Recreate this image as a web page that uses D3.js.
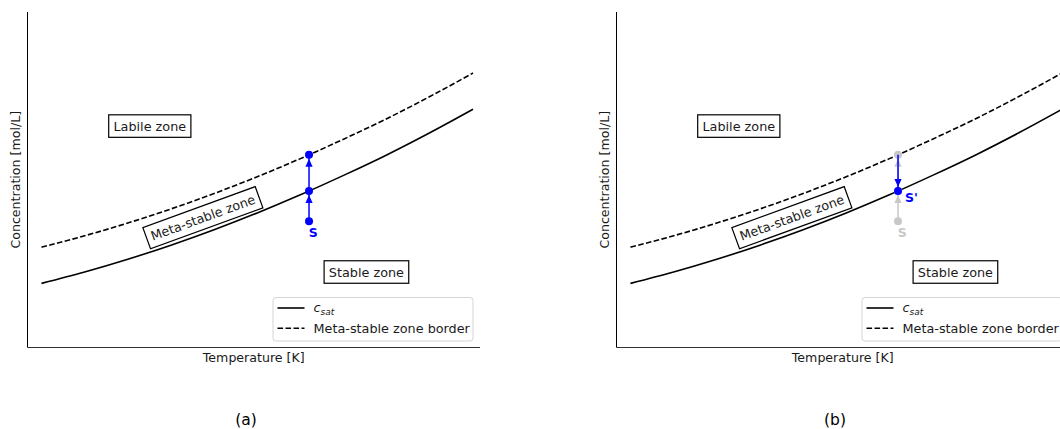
<!DOCTYPE html>
<html>
<head>
<meta charset="utf-8">
<script src="https://cdn.jsdelivr.net/npm/d3@7/dist/d3.min.js"></script>
<style>
  body { margin: 0; background: #fff; }
  svg { display: block; }
  text { font-family: "DejaVu Sans", sans-serif; }
</style>
</head>
<body>
<svg id="chart" width="1060" height="429"></svg>
<script>
// Solubility curve and meta-stable limit (arbitrary temperature / concentration units)
const temperature = [0, 10, 20, 30, 40, 50, 60, 70, 80, 90, 100];
const cSat        = [1.91, 2.25, 2.63, 3.05, 3.51, 4.01, 4.55, 5.13, 5.74, 6.40, 7.10];
const msBorder    = [2.99, 3.33, 3.71, 4.13, 4.59, 5.09, 5.63, 6.21, 6.82, 7.48, 8.18];

// Operating point S (temperature, concentration)
const processT = 62;
const sConc = 3.76;

const panelNames = ["(a)", "(b)"];
const legendLabels = ["sat", "Meta-stable zone border"];

const BLUE = "#0000ff";
const GREY = "#c8c8c8";
const INK = "#1a1a1a";

const svg = d3.select("#chart");

const x = d3.scaleLinear().domain([-3.24, 101.62]).range([27.5, 480]);
const y = d3.scaleLinear().domain([0, 10]).range([347.5, 12]);

// value of a tabulated curve at temperature t (linear interpolation)
function at(series, t) {
  const i = Math.min(d3.bisectRight(temperature, t), temperature.length - 1);
  const t0 = temperature[i - 1], t1 = temperature[i];
  return series[i - 1] + (series[i] - series[i - 1]) * (t - t0) / (t1 - t0);
}

const line = d3.line()
  .x(d => x(d[0]))
  .y(d => y(d[1]))
  .curve(d3.curveMonotoneX);

const solidPts = temperature.map((t, i) => [t, cSat[i]]);
const dashPts = temperature.map((t, i) => [t, msBorder[i]]);

const cAtP = at(cSat, processT);
const bAtP = at(msBorder, processT);

const R = 4;        // marker radius
const AH = 8;       // arrow head length
const AW = 3.6;     // arrow head half width

function arrowHead(g, px, tipY, dir, color) {
  // dir = -1 points up, +1 points down
  const baseY = tipY - dir * AH;
  g.append("path")
    .attr("d", `M${px},${tipY} L${px - AW},${baseY} L${px + AW},${baseY} Z`)
    .attr("fill", color);
}

function upwardPath(g, color) {
  const px = x(processT);
  g.append("line")
    .attr("x1", px).attr("x2", px)
    .attr("y1", y(sConc)).attr("y2", y(bAtP))
    .attr("stroke", color).attr("stroke-width", 1.5);
  arrowHead(g, px, y(cAtP) + R, -1, color);
  arrowHead(g, px, y(bAtP) + R, -1, color);
  [sConc, cAtP, bAtP].forEach(v => {
    g.append("circle").attr("cx", px).attr("cy", y(v)).attr("r", R).attr("fill", color);
  });
  g.append("text")
    .attr("x", px + 4.2).attr("y", y(sConc) + 15.5)
    .attr("text-anchor", "middle")
    .attr("font-size", 12.5).attr("font-weight", "bold")
    .attr("fill", color)
    .text("S");
}

function zoneBox(g, label, t, c, angle) {
  const gg = g.append("g")
    .attr("transform", `translate(${x(t)},${y(c)}) rotate(${angle})`);
  const txt = gg.append("text")
    .attr("text-anchor", "middle")
    .attr("dy", "0.36em")
    .attr("font-size", 12.8)
    .attr("fill", INK)
    .text(label);
  const w = txt.node().getComputedTextLength() + 9.5;
  const h = 22.5;
  gg.insert("rect", "text")
    .attr("x", -w / 2).attr("y", -h / 2)
    .attr("width", w).attr("height", h)
    .attr("fill", "#fff")
    .attr("stroke", "#000").attr("stroke-width", 1.2);
}

function drawPanel(offset, name, mode) {
  const g = svg.append("g").attr("transform", `translate(${offset},0)`);

  // spines
  g.append("line")
    .attr("x1", x.range()[0]).attr("x2", x.range()[0])
    .attr("y1", y.range()[1]).attr("y2", y.range()[0])
    .attr("stroke", "#000").attr("stroke-width", 1);
  g.append("line")
    .attr("x1", x.range()[0]).attr("x2", x.range()[1])
    .attr("y1", y.range()[0]).attr("y2", y.range()[0])
    .attr("stroke", "#333").attr("stroke-width", 1.2);

  // curves
  g.append("path").attr("d", line(solidPts))
    .attr("fill", "none").attr("stroke", "#000").attr("stroke-width", 1.6);
  g.append("path").attr("d", line(dashPts))
    .attr("fill", "none").attr("stroke", "#000").attr("stroke-width", 1.6)
    .attr("stroke-dasharray", "5.6,2.4");

  // zone labels
  zoneBox(g, "Labile zone", 25.1, 6.6, 0);
  zoneBox(g, "Stable zone", 75.3, 2.25, 0);
  zoneBox(g, "Meta-stable zone", 37.4, 3.87, -20);

  if (mode === "a") {
    upwardPath(g, BLUE);
  } else {
    upwardPath(g, GREY);
    const px = x(processT);
    g.append("line")
      .attr("x1", px).attr("x2", px)
      .attr("y1", y(bAtP)).attr("y2", y(cAtP))
      .attr("stroke", BLUE).attr("stroke-width", 1.5);
    arrowHead(g, px, y(cAtP) - R, 1, BLUE);
    g.append("circle").attr("cx", px).attr("cy", y(cAtP)).attr("r", R).attr("fill", BLUE);
    g.append("text")
      .attr("x", px + 7).attr("y", y(cAtP) + 11)
      .attr("font-size", 12.5).attr("font-weight", "bold")
      .attr("fill", BLUE)
      .text("S'");
  }

  // legend
  const lg = g.append("g");
  lg.append("rect")
    .attr("x", 273).attr("y", 297.5).attr("width", 200).attr("height", 43.5)
    .attr("rx", 3).attr("fill", "#fff").attr("fill-opacity", 0.85)
    .attr("stroke", "#d4d4d4").attr("stroke-width", 1);
  lg.append("line").attr("x1", 277.5).attr("x2", 304.5).attr("y1", 308).attr("y2", 308)
    .attr("stroke", "#000").attr("stroke-width", 1.6);
  lg.append("line").attr("x1", 277.5).attr("x2", 304.5).attr("y1", 328.3).attr("y2", 328.3)
    .attr("stroke", "#000").attr("stroke-width", 1.6).attr("stroke-dasharray", "5.6,2.4");
  const t1 = lg.append("text").attr("x", 313.5).attr("y", 312)
    .attr("font-size", 12.8).attr("fill", INK);
  t1.append("tspan").attr("font-style", "italic").text("c");
  t1.append("tspan").attr("font-style", "italic").attr("font-size", 9)
    .attr("dy", 2.5).text(legendLabels[0]);
  lg.append("text").attr("x", 313.5).attr("y", 333)
    .attr("font-size", 12.8).attr("fill", INK).text(legendLabels[1]);

  // axis titles
  g.append("text")
    .attr("x", (x.range()[0] + x.range()[1]) / 2).attr("y", 361.5)
    .attr("text-anchor", "middle").attr("font-size", 12.6).attr("fill", INK)
    .text("Temperature [K]");
  g.append("text")
    .attr("transform", `translate(19.5,${(y.range()[0] + y.range()[1]) / 2}) rotate(-90)`)
    .attr("text-anchor", "middle").attr("font-size", 12.6).attr("fill", INK)
    .text("Concentration [mol/L]");

  // panel caption
  g.append("text")
    .attr("x", 246).attr("y", 425)
    .attr("text-anchor", "middle")
    .attr("font-family", "'Liberation Serif', serif")
    .attr("font-size", 15.5).attr("fill", "#000")
    .text(name);
}

drawPanel(0, panelNames[0], "a");
drawPanel(589, panelNames[1], "b");
</script>
</body>
</html>
